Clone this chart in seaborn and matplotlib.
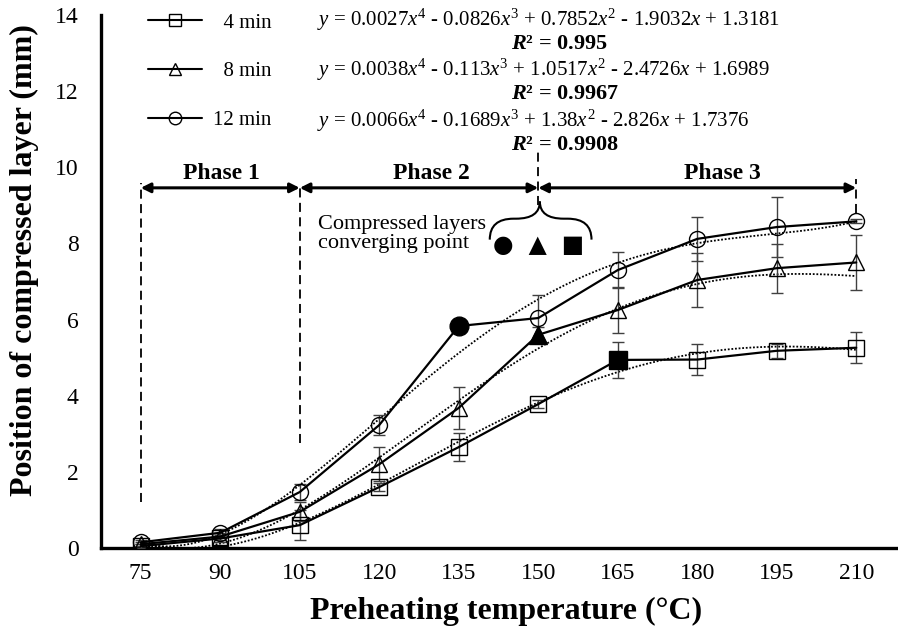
import numpy as np
import matplotlib.pyplot as plt
import matplotlib.ticker as ticker
from matplotlib.lines import Line2D
from matplotlib.path import Path
from matplotlib.patches import PathPatch
import seaborn as sns

# Data
temps = ['75', '90', '105', '120', '135', '150', '165', '180', '195', '210']
pos = np.arange(1, len(temps) + 1)

y_4min = [0.05, 0.25, 0.60, 1.60, 2.65, 3.78, 4.94, 4.95, 5.18, 5.26]
err_4min = [0.05, 0.10, 0.40, 0.10, 0.37, 0.10, 0.47, 0.41, 0.18, 0.41]
y_8min = [0.10, 0.30, 0.95, 2.20, 3.68, 5.60, 6.25, 7.04, 7.35, 7.50]
err_8min = [0.05, 0.10, 0.25, 0.45, 0.55, 0.20, 0.60, 0.72, 0.64, 0.73]
y_12min = [0.15, 0.40, 1.47, 3.23, 5.83, 6.04, 7.30, 8.12, 8.43, 8.58]
err_12min = [0.05, 0.10, 0.20, 0.27, 0.10, 0.60, 0.48, 0.57, 0.78, 0.05]

# index of the converging point (filled marker) for each series
conv_idx = {'4 min': 6, '8 min': 5, '12 min': 4}

# 4th-order trendline coefficients (highest power first) and R^2
coef_4min = [0.0027, -0.0826, 0.7852, -1.9032, 1.3181]
coef_8min = [0.0038, -0.113, 1.0517, -2.4726, 1.6989]
coef_12min = [0.0066, -0.1689, 1.38, -2.826, 1.7376]
r2_values = ['0.995', '0.9967', '0.9908']

series = [
    ('4 min', y_4min, err_4min, coef_4min, 's'),
    ('8 min', y_8min, err_8min, coef_8min, '^'),
    ('12 min', y_12min, err_12min, coef_12min, 'o'),
]

sns.set_theme(style='white')
plt.rcParams.update({
    'font.family': ['Liberation Serif', 'DejaVu Serif'],
    'mathtext.fontset': 'custom',
    'mathtext.rm': 'Liberation Serif',
    'mathtext.it': 'Liberation Serif:italic',
    'mathtext.bf': 'Liberation Serif:bold',
    'mathtext.bfit': 'Liberation Serif:bold:italic',
    'axes.edgecolor': 'black',
    'axes.labelcolor': 'black',
    'text.color': 'black',
    'xtick.color': 'black',
    'ytick.color': 'black',
})

fig = plt.figure(figsize=(8.98, 6.41), dpi=100)
ax = fig.add_axes([101 / 898, 93 / 641, 795 / 898, 533 / 641])

# trendlines (dotted)
xs = np.linspace(1, 10, 200)
for name, y, err, coef, mk in series:
    sns.lineplot(x=xs, y=np.polyval(coef, xs), ax=ax, color='black',
                 linewidth=1.3, linestyle=(0, (1, 1)), zorder=2)

# error bars
for name, y, err, coef, mk in series:
    ax.errorbar(pos, y, yerr=err, fmt='none', ecolor='#404040',
                elinewidth=1.0, capsize=4.5, capthick=1.0, zorder=3)

# measured lines with open markers
for name, y, err, coef, mk in series:
    sns.lineplot(x=pos, y=y, ax=ax, color='black', linewidth=1.6,
                 marker=mk, markersize=11.5, markerfacecolor='none',
                 markeredgecolor='black', markeredgewidth=1.0, zorder=4)
    i = conv_idx[name]
    ax.plot(pos[i], y[i], marker=mk, markersize=13.5, color='black',
            linestyle='none', zorder=5)

ax.set_xlim(0.5, 10.5)
ax.set_ylim(0, 14)
ax.set_xticks(pos)
ax.set_xticklabels(temps)
ax.xaxis.set_minor_locator(ticker.FixedLocator(np.arange(0.5, 11, 1)))
ax.yaxis.set_major_locator(ticker.MultipleLocator(2))
ax.yaxis.set_minor_locator(ticker.MultipleLocator(1))
ax.tick_params(axis='x', which='major', length=0, labelsize=17, pad=11)
ax.tick_params(axis='x', which='minor', direction='in', length=5, width=2.5)
ax.tick_params(axis='y', which='both', direction='in', length=5, width=2.5)
ax.tick_params(axis='y', which='major', labelsize=17, pad=16)
for s in ['top', 'right']:
    ax.spines[s].set_visible(False)
for s in ['left', 'bottom']:
    ax.spines[s].set_linewidth(2.4)

ax.set_xlabel('Preheating temperature (°C)', fontsize=23, fontweight='bold')
ax.set_ylabel('Position of compressed layer (mm)', fontsize=23, fontweight='bold')
ax.xaxis.set_label_coords(0.51, -0.092)
ax.yaxis.set_label_coords(-0.078, 0.54)

# phase boundaries and arrows
dash = (0, (5, 3))
ax.vlines(1, 1.2, 9.6, colors='black', linestyles=dash, linewidth=1.3)
ax.vlines(3, 2.75, 9.6, colors='black', linestyles=dash, linewidth=1.3)
ax.vlines(6, 9.0, 10.4, colors='black', linestyles=dash, linewidth=1.3)
ax.vlines(10, 8.8, 9.7, colors='black', linestyles=dash, linewidth=1.3)
phases = [('Phase 1', 1, 3, 2.02), ('Phase 2', 3, 6, 4.65), ('Phase 3', 6, 10, 8.32)]
for label, x0, x1, xt in phases:
    ax.annotate('', xy=(x1, 9.46), xytext=(x0, 9.46),
                arrowprops=dict(arrowstyle='<|-|>', color='black', lw=2.2,
                                shrinkA=0, shrinkB=0, mutation_scale=14))
    ax.text(xt, 9.55, label, ha='center', va='bottom', fontsize=17,
            fontweight='bold')

# converging point note with brace
ax.text(3.23, 8.25, 'Compressed layers\nconverging point', ha='left',
        va='center', fontsize=16, linespacing=1.05)
xl, xr, xc = 5.39, 6.67, 6.02
ye, ya, yt = 8.1, 8.65, 9.1
verts = [(xl, ye), (xl, ya), (xl + 0.3, ya), (xc - 0.3, ya), (xc, ya), (xc, yt),
         (xc, ya), (xc + 0.3, ya), (xr - 0.3, ya), (xr, ya), (xr, ye)]
codes = [Path.MOVETO, Path.CURVE3, Path.CURVE3, Path.LINETO, Path.CURVE3, Path.CURVE3,
         Path.CURVE3, Path.CURVE3, Path.LINETO, Path.CURVE3, Path.CURVE3]
ax.add_patch(PathPatch(Path(verts, codes), fill=False, lw=1.5, color='black'))
ax.text(6.0, 7.96, '\u25cf  \u25b2  \u25a0', ha='center', va='center',
        fontsize=17, family=['DejaVu Sans'])

# legend
handles = [Line2D([], [], color='black', lw=1.5, marker=mk, markersize=9,
                  markerfacecolor='none', markeredgecolor='black', markeredgewidth=1.0)
           for _, _, _, _, mk in series]
ax.legend(handles, ['  4 min', '  8 min', '12 min'], loc='upper left',
          bbox_to_anchor=(148 / 898, 1 - 13 / 641), bbox_transform=fig.transFigure,
          frameon=False, fontsize=15, handlelength=2.6, handletextpad=0.5,
          labelspacing=1.4, borderpad=0, borderaxespad=0)

# trendline equations
eqs = [
    r'$y$ = 0.0027$x^4$ - 0.0826$x^3$ + 0.7852$x^2$ - 1.9032$x$ + 1.3181',
    r'$y$ = 0.0038$x^4$ - 0.113$x^3$ + 1.0517$x^2$ - 2.4726$x$ + 1.6989',
    r'$y$ = 0.0066$x^4$ - 0.1689$x^3$ + 1.38$x^2$ - 2.826$x$ + 1.7376',
]
eq_y = [20, 70, 121]
for eq, r2, py in zip(eqs, r2_values, eq_y):
    fig.text(317 / 898, 1 - py / 641, eq, ha='left', va='center', fontsize=15)
    fig.text(511 / 898, 1 - (py + 24) / 641, r'$\mathbfit{R}$' + '\u00b2 = ' + r2,
             ha='left', va='center', fontsize=16, fontweight='bold')

fig.savefig('out.png', dpi=100)
